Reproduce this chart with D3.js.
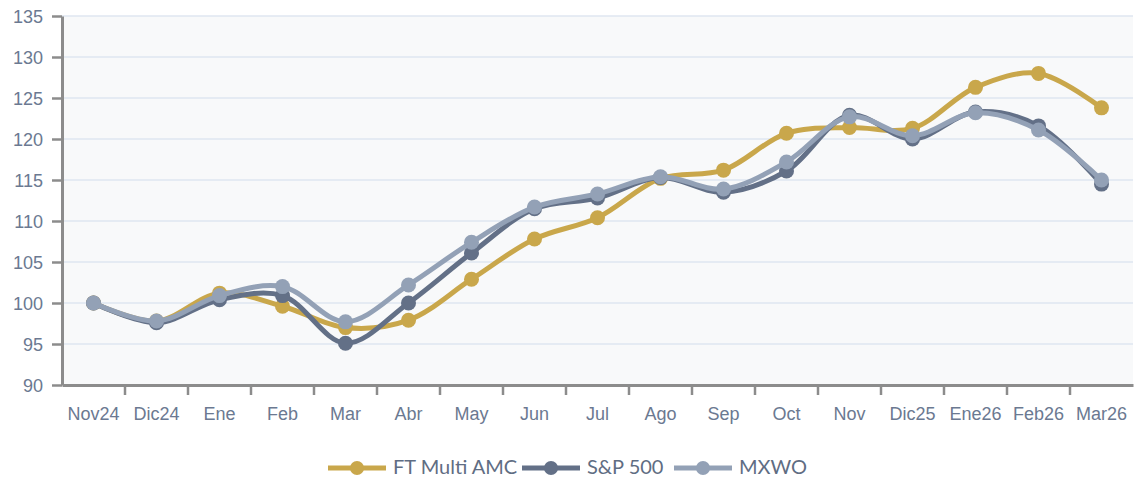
<!DOCTYPE html>
<html>
<head>
<meta charset="utf-8">
<script src="https://cdn.jsdelivr.net/npm/d3@7"></script>
<style>
  body { margin: 0; background: #fff; }
  svg { display: block; }
</style>
</head>
<body>
<script>
const months = ["Nov24", "Dic24", "Ene", "Feb", "Mar", "Abr", "May", "Jun", "Jul",
                "Ago", "Sep", "Oct", "Nov", "Dic25", "Ene26", "Feb26", "Mar26"];

const ftMulti = [100, 97.8, 101.2, 99.6, 97.0, 97.9, 102.9, 107.8, 110.4,
                 115.2, 116.2, 120.7, 121.4, 121.3, 126.3, 128.0, 123.8];
const sp500   = [100, 97.6, 100.4, 100.9, 95.1, 100.0, 106.1, 111.5, 112.8,
                 115.3, 113.5, 116.1, 122.9, 120.0, 123.3, 121.6, 114.5];
const mxwo    = [100, 97.8, 100.9, 102.0, 97.7, 102.2, 107.4, 111.7, 113.3,
                 115.4, 113.9, 117.2, 122.7, 120.4, 123.2, 121.1, 115.0];

const yTicks = [90, 95, 100, 105, 110, 115, 120, 125, 130, 135];

const series = [
  {name: "FT Multi AMC", values: ftMulti, color: "#c9a74b"},
  {name: "S&P 500", values: sp500, color: "#637087"},
  {name: "MXWO", values: mxwo, color: "#93a1b6"}
];

const width = 1134, height = 478;
const margin = {top: 16, right: 1, bottom: 93, left: 62};

const svg = d3.select("body").append("svg")
    .attr("width", width)
    .attr("height", height);

const x = d3.scaleBand()
    .domain(months)
    .range([margin.left, width - margin.right]);

const y = d3.scaleLinear()
    .domain([90, 135])
    .range([height - margin.bottom, margin.top]);

// plot background
svg.append("rect")
    .attr("x", margin.left)
    .attr("y", margin.top)
    .attr("width", width - margin.right - margin.left)
    .attr("height", y(90) - margin.top)
    .attr("fill", "#f8f9fa");

// grid
svg.append("g")
    .selectAll("line")
    .data(yTicks.slice(1))
    .join("line")
    .attr("x1", margin.left)
    .attr("x2", width - margin.right)
    .attr("y1", d => y(d))
    .attr("y2", d => y(d))
    .attr("stroke", "#dfe6f0")
    .attr("stroke-width", 1.5);

// y axis
const yAxis = svg.append("g")
    .attr("transform", "translate(" + margin.left + ",0)")
    .call(d3.axisLeft(y).tickValues(yTicks).tickSize(10).tickSizeOuter(0).tickPadding(9));

// x axis
const xTickPos = months.map((m, i) => margin.left + i * x.bandwidth()).concat([width - margin.right]);
const xAxis = svg.append("g")
    .attr("transform", "translate(0," + y(90) + ")")
    .call(d3.axisBottom(x).tickSize(0).tickPadding(22));

xAxis.selectAll(".tick line").remove();
xAxis.selectAll(".bound")
    .data(xTickPos.slice(1, -1))
    .join("line")
    .attr("class", "bound")
    .attr("x1", d => d).attr("x2", d => d)
    .attr("y1", 0).attr("y2", 10)
    .attr("stroke", "#8c8c8c")
    .attr("stroke-width", 2.5);

[xAxis, yAxis].forEach(function(g) {
  g.select(".domain").attr("stroke", "#8c8c8c").attr("stroke-width", 3);
  g.selectAll(".tick line").attr("stroke", "#8c8c8c").attr("stroke-width", 2.5);
  g.selectAll("text")
    .attr("fill", "#6b7991")
    .style("font-family", "'Liberation Sans', Arial, sans-serif")
    .style("font-size", "18px");
});
yAxis.selectAll("text").attr("dy", "0.34em");

const line = d3.line()
    .x((d, i) => x(months[i]) + x.bandwidth() / 2)
    .y(d => y(d))
    .curve(d3.curveCatmullRom.alpha(0.5));

series.forEach(function(s) {
  const g = svg.append("g");
  g.append("path")
    .attr("d", line(s.values))
    .attr("fill", "none")
    .attr("stroke", s.color)
    .attr("stroke-width", 5)
    .attr("stroke-linejoin", "round");
  g.selectAll("circle")
    .data(s.values)
    .join("circle")
    .attr("cx", (d, i) => x(months[i]) + x.bandwidth() / 2)
    .attr("cy", d => y(d))
    .attr("r", 7.5)
    .attr("fill", s.color);
});

// legend
const legendX = [328, 522, 674];
const legend = svg.append("g").attr("transform", "translate(0,468)");
series.forEach(function(s, i) {
  const lg = legend.append("g").attr("transform", "translate(" + legendX[i] + ",0)");
  lg.append("line")
    .attr("x1", 0).attr("x2", 58)
    .attr("stroke", s.color)
    .attr("stroke-width", 5);
  lg.append("circle")
    .attr("cx", 29).attr("r", 7)
    .attr("fill", s.color);
  lg.append("text")
    .attr("x", 65)
    .attr("y", 5.5)
    .attr("fill", "#5f6d83")
    .style("font-family", "Lato, sans-serif")
    .style("font-size", "20px")
    .text(s.name);
});
</script>
</body>
</html>
